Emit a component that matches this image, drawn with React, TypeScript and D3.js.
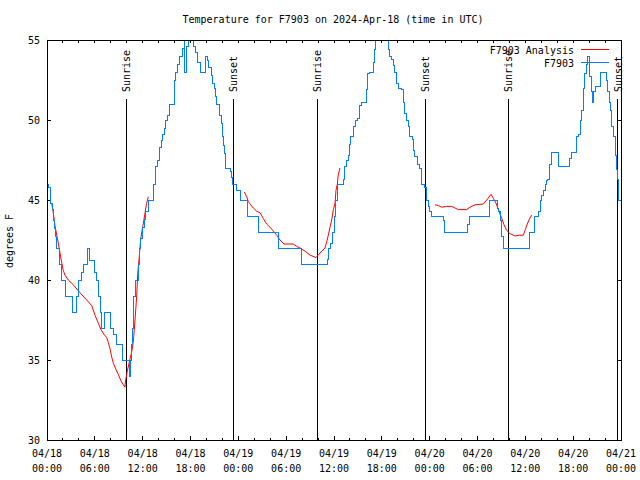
import React from "react";
import * as d3 from "d3";

const title = "Temperature for F7903 on 2024-Apr-18 (time in UTC)";
const yLabel = "degrees F";
const yTicks = [30, 35, 40, 45, 50, 55];
const xTickHours = [0, 6, 12, 18, 24, 30, 36, 42, 48, 54, 60, 66, 72];
const xTickDates = ["04/18", "04/18", "04/18", "04/18", "04/19", "04/19", "04/19", "04/19", "04/20", "04/20", "04/20", "04/20", "04/21"];
const xTickTimes = ["00:00", "06:00", "12:00", "18:00", "00:00", "06:00", "12:00", "18:00", "00:00", "06:00", "12:00", "18:00", "00:00"];
const sunHours = [9.91, 23.37, 33.91, 47.46, 57.87, 71.59];
const sunLabels = ["Sunrise", "Sunset", "Sunrise", "Sunset", "Sunrise", "Sunset"];
const legendLabels = ["F7903 Analysis", "F7903"];

// observed station temperature: [hours since 04/18 00:00 UTC, deg F]
const observed: [number, number][] = [
  [0, 46], [0.25, 45.8], [0.38, 45.3], [0.5, 44.8], [0.63, 44.4], [0.79, 43.75], [0.92, 43.25],
  [1.04, 42.7], [1.22, 42], [1.63, 41], [1.88, 40], [2.26, 39], [3.26, 38], [3.73, 39], [4.01, 40],
  [4.39, 40.5], [4.64, 41], [5.11, 42], [5.31, 41.2], [6.02, 40.5], [6.23, 40], [6.44, 39],
  [6.65, 38], [6.86, 37], [7.15, 38], [7.99, 37], [8.32, 36.6], [8.66, 36], [9.41, 35],
  [10.35, 34], [10.5, 35], [10.6, 36], [10.73, 37], [10.83, 38], [10.91, 39], [11.16, 40],
  [11.42, 41], [11.58, 42], [11.75, 42.6], [12.0, 43.3], [12.17, 43.8], [12.33, 44.3],
  [12.71, 45], [13.3, 46], [13.55, 46.9], [13.67, 47.1], [13.86, 47.5], [14.05, 47.9],
  [14.17, 48.3], [14.39, 48.7], [14.51, 49.1], [14.71, 49.5], [14.89, 50], [15.09, 50.3],
  [15.34, 51], [15.97, 52.5], [16.18, 53], [16.35, 53.5], [16.6, 54], [17.02, 54.5],
  [17.19, 55.3], [17.31, 53], [17.52, 54.6], [17.69, 55.3], [18.35, 54.6], [18.57, 54.2],
  [18.9, 53.6], [19.28, 53], [19.82, 54], [20.07, 53.7], [20.23, 53.3], [20.66, 52.8],
  [20.82, 52.3], [20.99, 52], [21.16, 51.5], [21.29, 51], [21.58, 50.7], [21.7, 50.3],
  [21.83, 49.8], [21.99, 49], [22.12, 48.4], [22.24, 47.9], [22.42, 47], [22.96, 46.8],
  [23.17, 46.4], [23.29, 46], [23.8, 45.6], [24.21, 45], [25.13, 44], [26.51, 43], [29.02, 42],
  [31.95, 41], [35.16, 41.3], [35.37, 42], [35.59, 42.3], [35.75, 43], [36.0, 44], [36.16, 45],
  [36.42, 46], [37.17, 46.3], [37.29, 47.1], [37.6, 47.5], [37.8, 47.8], [37.92, 48.5],
  [38.1, 49], [38.43, 49.6], [38.64, 50], [38.93, 50.1], [39.18, 50.9], [39.48, 51.1],
  [40.1, 51.9], [40.23, 52.9], [40.43, 53], [40.93, 53.6], [41.06, 54.4], [41.23, 55.3],
  [41.4, 56], [42.66, 55.3], [42.79, 54.4], [43.0, 54], [43.21, 53.8], [43.41, 53.4],
  [43.62, 53], [43.84, 52.3], [44.04, 52], [44.46, 51.9], [44.66, 51.1], [44.87, 50.4],
  [45.08, 50], [45.29, 49.6], [45.5, 49], [45.8, 48.8], [45.92, 48.1], [46.13, 47.7],
  [46.42, 47.2], [46.75, 47], [46.97, 46], [47.38, 45.8], [47.59, 45], [47.8, 44.6],
  [48.0, 44.3], [48.22, 44], [49.68, 43.7], [49.89, 43], [52.69, 43.5], [52.94, 44],
  [55.45, 45], [56.49, 44.5], [56.62, 44.3], [56.83, 43.7], [56.96, 43.3], [57.05, 42.7],
  [57.25, 42], [60.5, 43], [61.21, 44], [61.63, 44.3], [61.84, 45], [62.05, 45.3],
  [62.26, 45.6], [62.47, 46], [62.68, 46.2], [62.81, 46.3], [62.97, 47.2], [63.22, 48],
  [64.14, 47.1], [65.6, 47.6], [65.82, 48], [66.44, 49], [66.64, 49.1], [66.86, 50],
  [67.07, 50.6], [67.27, 52], [67.4, 52.9], [67.61, 53.5], [67.77, 54], [67.99, 53.3],
  [68.11, 52.7], [68.33, 51.8], [68.45, 51.1], [68.53, 51.8], [68.74, 52.1], [69.37, 53],
  [70.12, 52.5], [70.28, 51.8], [70.5, 51.1], [70.71, 50.6], [70.84, 49.6], [71.04, 49],
  [71.25, 47.8], [71.38, 46.9], [71.5, 46.3], [71.67, 45], [72, 45],
];

// analysis temperature, three available windows
const analysisA: [number, number][] = [
  [0.59, 44.8], [0.79, 44.2], [1.0, 43.4], [1.22, 42.8], [1.42, 42.3], [1.63, 41.7], [1.84, 41.1],
  [2.04, 40.6], [2.26, 40.3], [2.67, 40], [3.3, 39.7], [4.14, 39.2], [4.98, 38.75], [5.61, 38.4],
  [6.02, 37.8], [6.44, 37.3], [6.77, 36.9], [7.15, 36.6], [7.49, 36.4], [7.69, 36.1], [7.9, 35.7],
  [8.11, 35.2], [8.32, 34.8], [8.66, 34.4], [8.94, 34.1], [9.24, 33.75], [9.5, 33.5], [9.78, 33.3],
  [9.87, 33.75], [10.07, 34.3], [10.29, 34.8], [10.5, 35.25], [10.7, 35.7], [10.87, 36.4],
  [11.04, 37.5], [11.25, 39], [11.38, 40.4], [11.54, 41.25], [11.67, 42.1], [11.79, 42.7],
  [12.0, 43.3], [12.17, 43.8], [12.33, 44.3], [12.5, 44.8], [12.71, 45.2],
];
const analysisB: [number, number][] = [
  [24.75, 45.5], [25.05, 45.2], [25.25, 44.9], [25.55, 44.7], [25.88, 44.5], [26.3, 44.3],
  [26.72, 44.2], [27.13, 43.85], [27.55, 43.5], [27.97, 43.3], [28.39, 43.06], [28.81, 42.8],
  [29.23, 42.5], [29.73, 42.25], [30.9, 42.25], [31.32, 42.1], [31.74, 42], [32.37, 41.8],
  [32.99, 41.56], [33.74, 41.4], [34.03, 41.56], [34.46, 41.8], [34.87, 42], [35.09, 42.4],
  [35.29, 42.8], [35.5, 43.3], [35.71, 43.75], [35.92, 44.4], [36.13, 44.8], [36.25, 45.6],
  [36.42, 46], [36.54, 46.6], [36.75, 47],
];
const analysisC: [number, number][] = [
  [48.67, 44.7], [49.09, 44.65], [49.51, 44.55], [50.14, 44.6], [50.77, 44.6], [51.18, 44.5],
  [51.6, 44.4], [52.65, 44.4], [53.06, 44.55], [53.69, 44.7], [54.73, 44.75], [55.15, 45.0],
  [55.7, 45.35], [55.99, 45.1], [56.32, 44.8], [56.7, 44.3], [57.04, 43.85], [57.33, 43.45],
  [57.66, 43.1], [58.08, 42.9], [58.71, 42.75], [59.25, 42.8], [59.75, 42.8], [59.96, 43.1],
  [60.25, 43.5], [60.5, 43.8], [60.8, 44.06],
];

const FONT = "'DejaVu Sans Mono', 'Liberation Mono', monospace";
const BLUE = "#0080ff";
const RED = "#ff0000";

export default function App() {
  const W = 640, H = 480;
  const left = 47, right = 621, top = 40, bottom = 440;
  const x = d3.scaleLinear().domain([0, 72]).range([left, right]);
  const y = d3.scaleLinear().domain([30, 55]).range([bottom, top]);

  const stepLine = d3.line<[number, number]>().x(d => x(d[0])).y(d => y(d[1])).curve(d3.curveStepAfter);
  const line = d3.line<[number, number]>().x(d => x(d[0])).y(d => y(d[1]));

  const minorHours = d3.range(0, 73, 2);

  return (
    <svg width={W} height={H} style={{ position: "absolute", left: 0, top: 0, display: "block", background: "#fff" }}
      fontFamily={FONT} fontSize={10}>
      <defs>
        <clipPath id="plotClip">
          <rect x={left} y={top} width={right - left} height={bottom - top} />
        </clipPath>
      </defs>
      <rect x={0} y={0} width={W} height={H} fill="#fff" />

      {/* title */}
      <text x={333} y={23} textAnchor="middle">{title}</text>

      {/* y label */}
      <text transform={`translate(13,${241}) rotate(-90)`} textAnchor="middle">{yLabel}</text>

      {/* ticks */}
      <g stroke="#000" strokeWidth={1} shapeRendering="crispEdges">
        {yTicks.map(v => (
          <g key={"yt" + v}>
            <line x1={left} x2={left + 4} y1={y(v)} y2={y(v)} />
            <line x1={right - 4} x2={right} y1={y(v)} y2={y(v)} />
          </g>
        ))}
        {minorHours.map(h => {
          const len = h % 6 === 0 ? 4 : 2;
          return (
            <g key={"xt" + h}>
              <line x1={x(h)} x2={x(h)} y1={bottom} y2={bottom - len} />
              <line x1={x(h)} x2={x(h)} y1={top} y2={top + 3} />
            </g>
          );
        })}
      </g>

      {/* y tick labels */}
      {yTicks.map(v => (
        <text key={"yl" + v} x={40} y={y(v)} dy="0.35em" textAnchor="end">{v}</text>
      ))}

      {/* x tick labels */}
      {xTickHours.map((h, i) => (
        <g key={"xl" + h}>
          <text x={x(h)} y={457} textAnchor="middle">{xTickDates[i]}</text>
          <text x={x(h)} y={472} textAnchor="middle">{xTickTimes[i]}</text>
        </g>
      ))}

      {/* sunrise / sunset markers */}
      {sunHours.map((h, i) => (
        <g key={"sun" + i}>
          <line x1={x(h)} x2={x(h)} y1={99} y2={bottom} stroke="#000" strokeWidth={1} shapeRendering="crispEdges" />
          <text transform={`translate(${x(h)},92) rotate(-90)`} dy="0.38em" textAnchor="start">{sunLabels[i]}</text>
        </g>
      ))}

      {/* data */}
      <g clipPath="url(#plotClip)" fill="none">
        {[analysisA, analysisB, analysisC].map((seg, i) => (
          <path key={"an" + i} d={line(seg) || ""} stroke={RED} strokeWidth={1} />
        ))}
        <path d={stepLine(observed) || ""} stroke={BLUE} strokeWidth={1} shapeRendering="crispEdges" />
      </g>

      {/* legend */}
      <text x={574} y={50} dy="0.35em" textAnchor="end">{legendLabels[0]}</text>
      <line x1={581} x2={609} y1={49} y2={49} stroke={RED} strokeWidth={1} shapeRendering="crispEdges" />
      <text x={574} y={63} dy="0.35em" textAnchor="end">{legendLabels[1]}</text>
      <line x1={581} x2={609} y1={62} y2={62} stroke={BLUE} strokeWidth={1} shapeRendering="crispEdges" />

      {/* frame */}
      <rect x={left} y={top} width={right - left} height={bottom - top} fill="none" stroke="#000" strokeWidth={1} shapeRendering="crispEdges" />
    </svg>
  );
}
